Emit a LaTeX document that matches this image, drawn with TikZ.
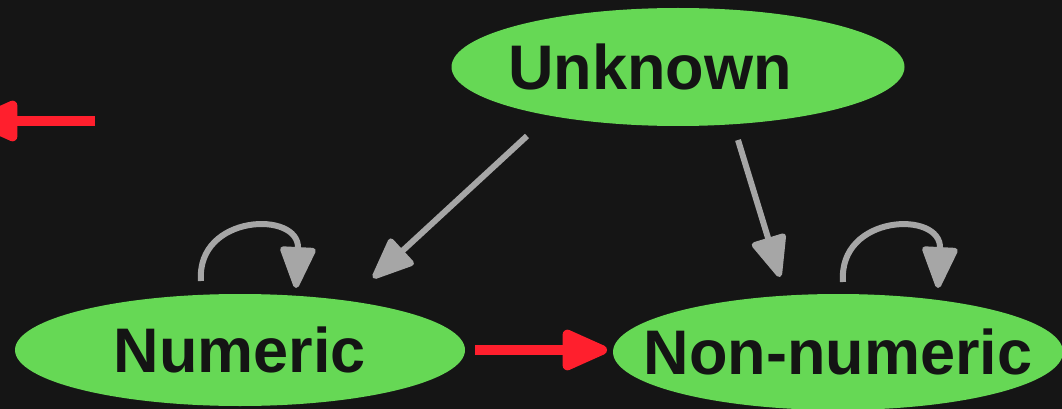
\documentclass[tikz,border=0pt]{standalone}
\usepackage{fontspec}
\setmainfont{Liberation Sans}
\usetikzlibrary{arrows.meta,calc,shapes.geometric}
\definecolor{bg}{RGB}{21,21,21}
\definecolor{gn}{RGB}{102,216,85}
\definecolor{rd}{RGB}{255,31,45}
\definecolor{gr}{RGB}{166,166,166}
\definecolor{tx}{RGB}{20,20,20}
\tikzset{
  state/.style={ellipse, fill=gn, draw=none, inner sep=0pt, outer sep=0pt,
    text=tx, font=\fontsize{63}{68}\selectfont\bfseries},
  gedge/.style={draw=gr, line width=6pt, -{Triangle[length=46pt,width=37pt,round]}},
  redge/.style={draw=rd, line width=9.5pt, -{Triangle[length=52pt,width=43pt,round]}},
}
\begin{document}
\begin{tikzpicture}[x=1pt,y=-1pt]
\useasboundingbox (0,0) rectangle (1062,409);
\fill[bg] (0,0) rectangle (1062,409);
\clip (0,0) rectangle (1062,409);
\node[state, minimum width=453pt, minimum height=118pt] (unk) at (678,67) {\makebox[0pt]{Unknown\hspace{56pt}}};
\node[state, minimum width=450pt, minimum height=112pt] (num) at (240,350) {\makebox[0pt]{Numeric}};
\node[state, minimum width=450pt, minimum height=116pt] (nn) at (838,352) {\makebox[0pt]{Non-numeric}};
\coordinate (lfrom) at (95,121);
\coordinate (lto) at (-27,121);
\draw[redge] (lfrom) -- (lto);
\draw[redge] ($(num.east)+(10,0)$) -- ($(nn.west)+(-6,-2)$);
\draw[gedge] ($(unk.south)+(-151,10)$) -- ($(num.north)+(133,-16)$);
\draw[gedge] ($(unk.south)+(60,14)$) -- ($(nn.north)+(-58,-17)$);
\draw[gedge] ($(num.north)+(-39,-13)$) .. controls ($(num.north)+(-44,-80)$) and ($(num.north)+(60,-84)$) .. ($(num.north)+(56,-6)$);
\draw[gedge] ($(nn.north)+(5,-12)$) .. controls ($(nn.north)+(0,-80)$) and ($(nn.north)+(104,-84)$) .. ($(nn.north)+(100,-6)$);
\end{tikzpicture}
\end{document}
